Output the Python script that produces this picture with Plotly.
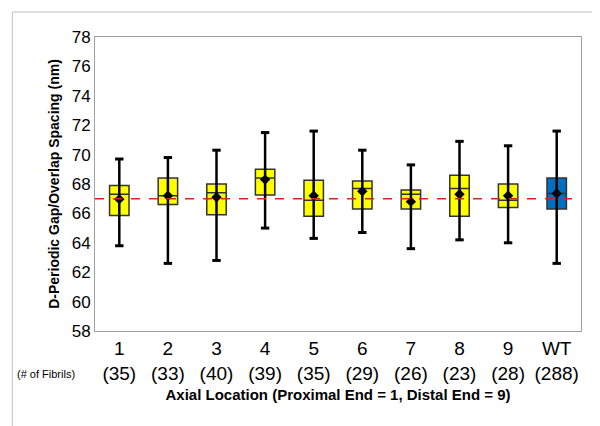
import plotly.graph_objects as go

groups = ["1", "2", "3", "4", "5", "6", "7", "8", "9", "WT"]
fibrils = [35, 33, 40, 39, 35, 29, 26, 23, 28, 288]
upper = [69.7, 69.8, 70.3, 71.5, 71.6, 70.3, 69.3, 70.9, 70.6, 71.6]
q3 = [67.9, 68.4, 68.0, 69.0, 68.25, 68.2, 67.6, 68.6, 68.0, 68.4]
median = [67.3, 67.2, 67.4, 68.4, 66.9, 67.7, 67.3, 67.7, 66.9, 67.35]
mean = [66.97, 67.2, 67.1, 68.3, 67.2, 67.5, 66.8, 67.3, 67.2, 67.35]
q1 = [65.86, 66.6, 65.9, 67.25, 65.8, 66.3, 66.3, 65.8, 66.4, 66.3]
lower = [63.8, 62.6, 62.8, 65.0, 64.3, 64.7, 63.6, 64.2, 64.0, 62.6]
reference = 67

xs = list(range(len(groups)))
fig = go.Figure()

# whiskers first so boxes sit on top
for i in xs:
    fig.add_trace(go.Scatter(x=[i, i], y=[lower[i], upper[i]], mode="lines",
                             line=dict(color="black", width=2.5), showlegend=False))

for i, g in enumerate(groups):
    color = "#0070C0" if g == "WT" else "#FFFF00"
    fig.add_trace(go.Box(
        x=[i], q1=[q1[i]], median=[median[i]], q3=[q3[i]],
        lowerfence=[q1[i]], upperfence=[q3[i]],
        fillcolor=color, line=dict(color="#333333", width=1.5),
        whiskerwidth=0, width=0.4, showlegend=False, hoverinfo="skip",
    ))

fig.add_trace(go.Scatter(x=xs, y=upper, mode="markers",
                         marker=dict(symbol="line-ew", size=6, line=dict(color="black", width=3)),
                         showlegend=False))
fig.add_trace(go.Scatter(x=xs, y=lower, mode="markers",
                         marker=dict(symbol="line-ew", size=6, line=dict(color="black", width=3)),
                         showlegend=False))
fig.add_trace(go.Scatter(x=xs, y=mean, mode="markers",
                         marker=dict(symbol="diamond", size=8, color="black"),
                         showlegend=False))

fig.add_shape(type="line", xref="paper", yref="y", x0=0, x1=1, y0=reference, y1=reference,
              line=dict(color="#E02020", width=1.5, dash="dash"), layer="above")
fig.add_shape(type="rect", xref="paper", yref="paper", x0=-0.17, x1=1.045, y0=-0.335, y1=1.085,
              line=dict(color="#C0C0C0", width=1))

ticktext = [f"{g}<br>({n})" for g, n in zip(groups, fibrils)]
fig.update_xaxes(range=[-0.5, 9.5], tickvals=xs, ticktext=ticktext,
                 tickfont=dict(family="Arial", size=19, color="black"),
                 showline=True, linecolor="#A0A0A0", mirror=True, ticks="",
                 title=dict(text="<b>Axial Location (Proximal End = 1, Distal End = 9)</b>",
                            font=dict(family="Arial", size=15, color="black"), standoff=6))
fig.update_yaxes(range=[58, 78], dtick=2, showgrid=False, zeroline=False,
                 tickfont=dict(family="Arial", size=17, color="black"),
                 showline=True, linecolor="#A0A0A0", mirror=True,
                 title=dict(text="<b>D-Periodic Gap/Overlap Spacing (nm)</b>",
                            font=dict(family="Arial", size=14, color="black"), standoff=8))
fig.add_annotation(text="(# of Fibrils)", xref="paper", yref="paper", x=-0.1, y=-0.175,
                   showarrow=False, xanchor="center", font=dict(family="Arial", size=11, color="black"))
fig.update_layout(
    width=600, height=426, template="plotly_white",
    margin=dict(l=87, r=27, t=29, b=103),
    paper_bgcolor="white", plot_bgcolor="white",
)
fig.write_html("out.html")
